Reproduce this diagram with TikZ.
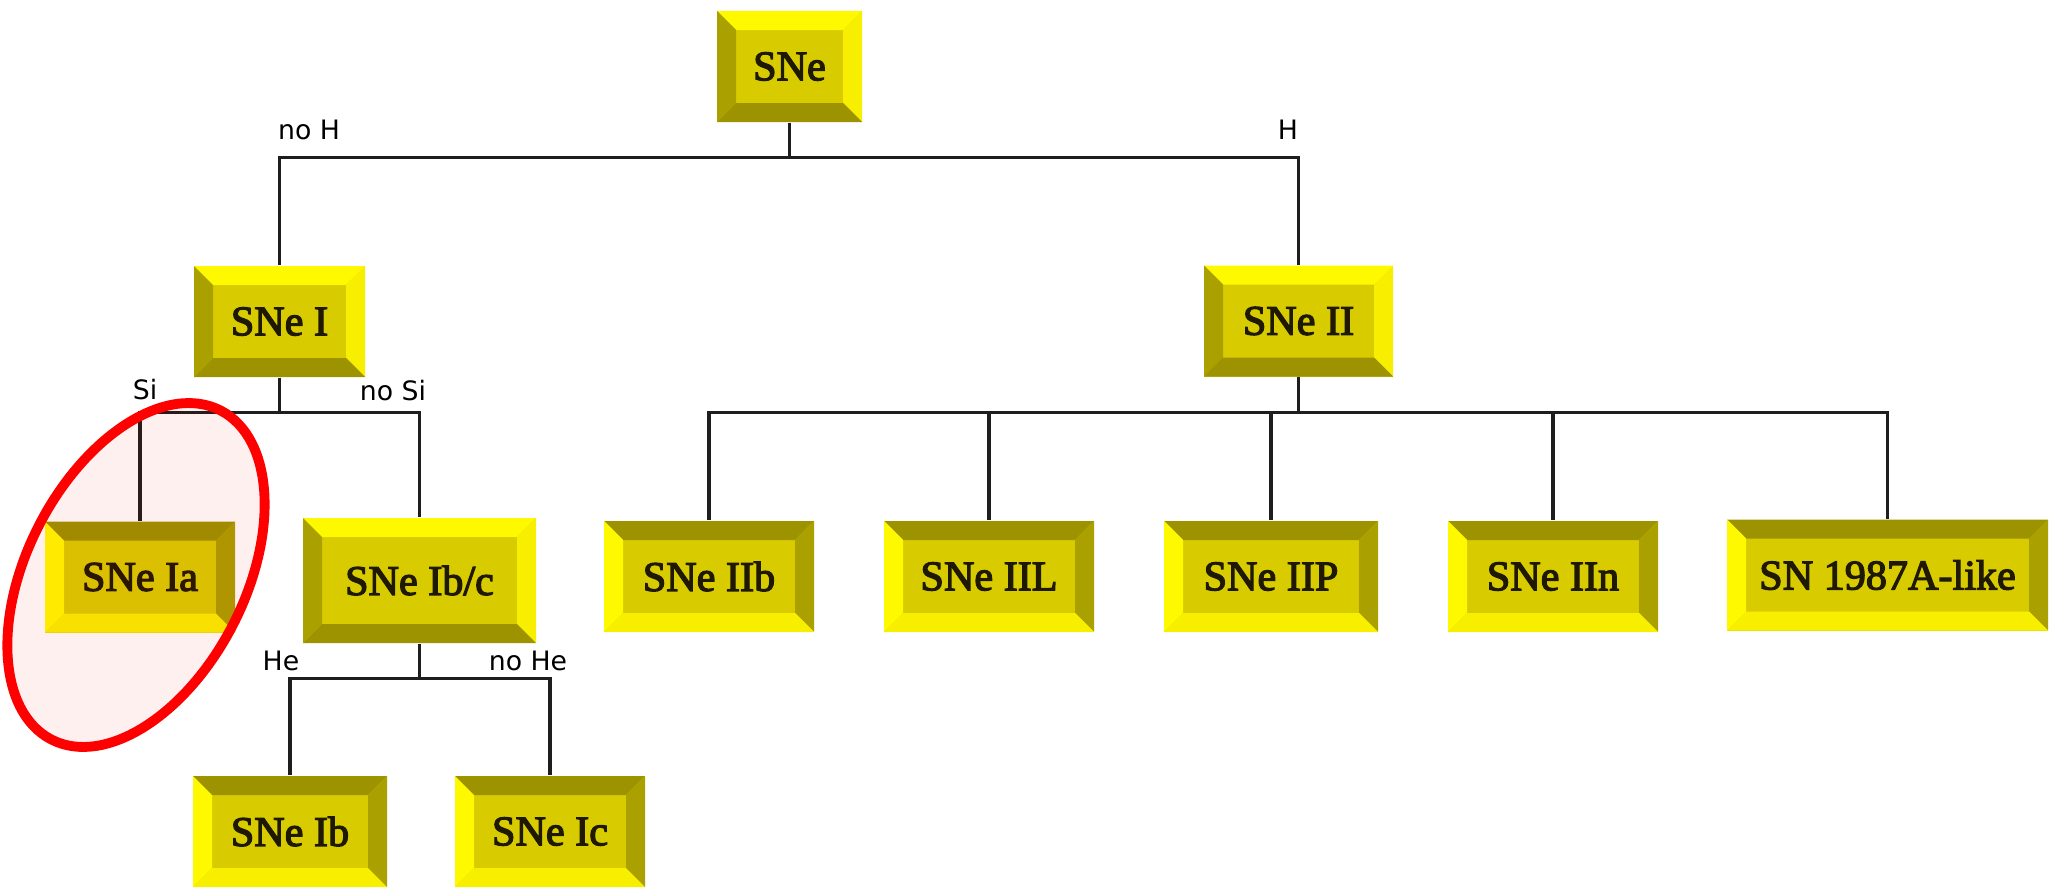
\documentclass[tikz,border=0pt]{standalone}
\usepackage{fontspec}
\setmainfont{Liberation Serif}
\setsansfont{DejaVu Sans}
\newfontfamily\boxfont[FakeBold=3]{Liberation Serif}
\usepackage{tikz}
\usetikzlibrary{shapes,positioning}
\definecolor{snface}{RGB}{216,204,0}
\definecolor{snlight}{RGB}{255,249,0}
\definecolor{snlighter}{RGB}{248,238,0}
\definecolor{sndark}{RGB}{170,160,0}
\definecolor{sndarker}{RGB}{157,147,0}
\definecolor{sntext}{RGB}{30,25,0}
\definecolor{snline}{RGB}{30,30,30}
\definecolor{snred}{RGB}{255,0,0}
\newlength{\bevw}
\setlength{\bevw}{0.19cm}
% four bevel faces: top, left, right, bottom
\newcommand{\bevelfaces}[4]{%
  \fill[#1] (path picture bounding box.north west) -- (path picture bounding box.north east)
    -- ([xshift=-\bevw,yshift=-\bevw]path picture bounding box.north east)
    -- ([xshift=\bevw,yshift=-\bevw]path picture bounding box.north west) -- cycle;
  \fill[#2] (path picture bounding box.north west) -- (path picture bounding box.south west)
    -- ([xshift=\bevw,yshift=\bevw]path picture bounding box.south west)
    -- ([xshift=\bevw,yshift=-\bevw]path picture bounding box.north west) -- cycle;
  \fill[#3] (path picture bounding box.north east) -- (path picture bounding box.south east)
    -- ([xshift=-\bevw,yshift=\bevw]path picture bounding box.south east)
    -- ([xshift=-\bevw,yshift=-\bevw]path picture bounding box.north east) -- cycle;
  \fill[#4] (path picture bounding box.south west) -- (path picture bounding box.south east)
    -- ([xshift=-\bevw,yshift=\bevw]path picture bounding box.south east)
    -- ([xshift=\bevw,yshift=\bevw]path picture bounding box.south west) -- cycle;
}
\tikzstyle{snbox} = [rectangle, minimum height=1.11cm, inner sep=0pt, fill=snface, text=sntext, font=\boxfont\fontsize{12}{14}\selectfont]
\tikzstyle{raised} = [snbox, path picture={\bevelfaces{snlight}{sndark}{snlighter}{sndarker}}]
\tikzstyle{sunken} = [snbox, path picture={\bevelfaces{sndarker}{snlight}{sndark}{snlighter}}]
\tikzstyle{branch} = [line width=0.9pt, color=snline]
\tikzstyle{cutlabel} = [font=\sffamily\fontsize{7.6}{9}\selectfont, inner sep=1pt]
\tikzstyle{ring} = [ellipse, draw=snred, line width=2.8pt, fill=snred, fill opacity=0.06, minimum width=3.7cm, minimum height=2.18cm, rotate=62.8]

\begin{document}
\begin{tikzpicture}
\useasboundingbox (0,0) rectangle (20.56,-8.89);
% Supernova classes
\node (sne) [raised, minimum width=1.45cm] at (7.895,-0.665) {SNe};
\node (sneI) [raised, minimum width=1.71cm] at (2.795,-3.215) {SNe I};
\node (sneII) [raised, minimum width=1.89cm] at (12.985,-3.21) {SNe II};
\node (sneIa) [sunken, minimum width=1.90cm] at (1.40,-5.77) {SNe Ia};
\node (sneIbc) [raised, minimum width=2.33cm, minimum height=1.25cm] at (4.195,-5.805) {SNe Ib/c};
\node (sneIb) [sunken, minimum width=1.94cm] at (2.90,-8.315) {SNe Ib};
\node (sneIc) [sunken, minimum width=1.90cm] at (5.50,-8.315) {SNe Ic};
\node (sneIIb) [sunken, minimum width=2.10cm] at (7.09,-5.765) {SNe IIb};
\node (sneIIL) [sunken, minimum width=2.10cm] at (9.89,-5.765) {SNe IIL};
\node (sneIIP) [sunken, minimum width=2.14cm] at (12.71,-5.765) {SNe IIP};
\node (sneIIn) [sunken, minimum width=2.10cm] at (15.53,-5.765) {SNe IIn};
\node (sn87A) [sunken, minimum width=3.21cm] at (18.875,-5.75) {SN 1987A-like};

\draw[branch] (sne.south) -- ++(0,-0.35) -| (sneI.north);
\draw[branch] (sne.south) -- ++(0,-0.35) -| (sneII.north);
\draw[branch] (sneI.south) -- ++(0,-0.35) -| (sneIa.north);
\draw[branch] (sneI.south) -- ++(0,-0.35) -| (sneIbc.north);
\draw[branch] (sneIbc.south) -- ++(0,-0.35) -| (sneIb.north);
\draw[branch] (sneIbc.south) -- ++(0,-0.35) -| (sneIc.north);
\foreach \kid in {sneIIb,sneIIL,sneIIP,sneIIn,sn87A}
  \draw[branch] (sneII.south) -- ++(0,-0.35) -| (\kid.north);

% spectral cuts
\node (noH) [cutlabel] at (3.09,-1.30) {no H};
\node (withH) [cutlabel] at (12.88,-1.30) {H};
\node (withSi) [cutlabel] at (1.45,-3.90) {Si};
\node (noSi) [cutlabel] at (3.93,-3.91) {no Si};
\node (withHe) [cutlabel] at (2.81,-6.61) {He};
\node (noHe) [cutlabel] at (5.28,-6.61) {no He};

\node (iaring) [ring] at ([xshift=-0.04cm,yshift=0.02cm]sneIa.center) {};
\end{tikzpicture}
\end{document}
